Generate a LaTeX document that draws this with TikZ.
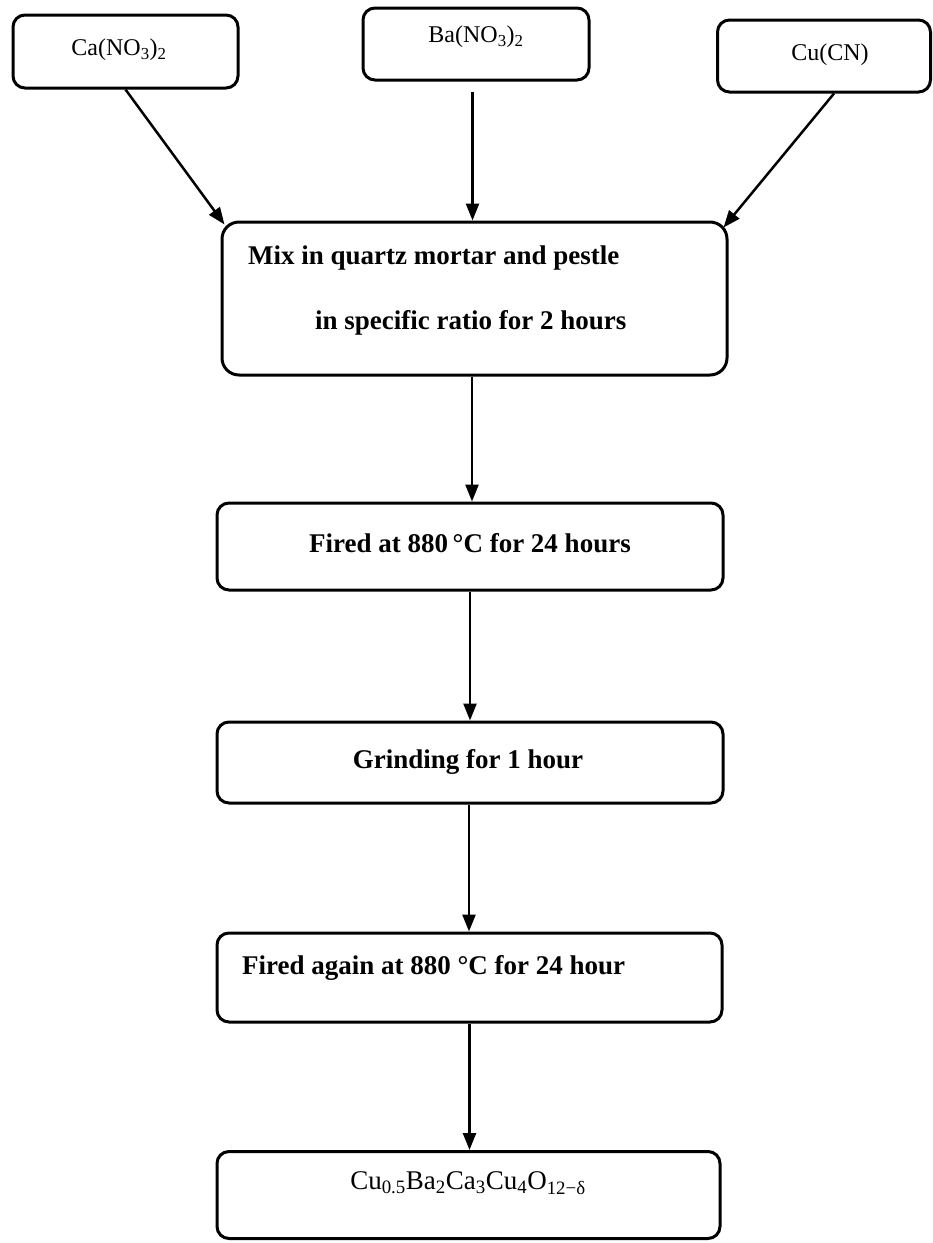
\documentclass[tikz,border=0pt]{standalone}
\usepackage{fontspec}
\setmainfont{Liberation Serif}
\usetikzlibrary{arrows.meta,calc}
\begin{document}
\begin{tikzpicture}[x=1pt,y=-1pt,
  box/.style={draw,line width=3pt,rounded corners=12pt,inner sep=0pt},
  toptext/.style={inner sep=0pt,font=\fontsize{24}{28}\selectfont},
  maintext/.style={inner sep=0pt,font=\fontsize{27}{32}\selectfont\bfseries},
  finaltext/.style={inner sep=0pt,font=\fontsize{27}{32}\selectfont},
  arr/.style={line width=2.5pt,-{Triangle[length=17pt,width=13pt]}}]
\useasboundingbox[fill=white] (0,0) rectangle (933,1243);
% boxes
\node[box,minimum width=225pt,minimum height=73pt] (ca) at (125.5,51.5) {};
\node[box,minimum width=226pt,minimum height=72pt] (ba) at (476,44) {};
\node[box,minimum width=213pt,minimum height=72pt] (cu) at (824,56) {};
\node[box,rounded corners=17pt,minimum width=505pt,minimum height=153pt] (mix) at (474.5,298.5) {};
\node[box,minimum width=506pt,minimum height=87pt] (fired) at (470,546.5) {};
\node[box,minimum width=506pt,minimum height=81pt] (grind) at (470,762.5) {};
\node[box,minimum width=505pt,minimum height=89pt] (again) at (469.5,977.5) {};
\node[box,minimum width=503pt,minimum height=87pt] (final) at (468.5,1195) {};
% texts
\node[toptext] (tca) at (119,50) {Ca(NO\textsubscript{3})\textsubscript{2}};
\node[toptext] (tba) at (476,37) {Ba(NO\textsubscript{3})\textsubscript{2}};
\node[toptext] (tcu) at (830,55) {Cu(CN)};
\node[maintext,anchor=west] (tmix1) at (248,258) {Mix in quartz mortar and pestle};
\node[maintext,anchor=west] (tmix2) at (315,323) {in specific ratio for 2 hours};
\node[maintext] (tfired) at (470,543) {Fired at 880\,°C for 24 hours};
\node[maintext] (tgrind) at (468,762) {Grinding for 1 hour};
\node[maintext,anchor=west] (tagain) at (242,968) {Fired again at 880 °C for 24 hour};
\node[finaltext] (tfinal) at (468,1183) {Cu\textsubscript{0.5}Ba\textsubscript{2}Ca\textsubscript{3}Cu\textsubscript{4}O\textsubscript{12−δ}};
% connectors
\draw[arr] (ca.south) -- ($(mix.north west)+(4,4)$);
\draw[arr,shorten <=10pt] ($(mix.north |- ba.south)+(-2,0)$) -- ($(mix.north)+(-2,0)$);
\draw[arr] ($(cu.south)+(10,0)$) -- ($(mix.north east)+(-5,7)$);
\draw[arr] ($(mix.south)+(-2.5,0)$) -- ($(mix.south |- fired.north)+(-2.5,0)$);
\draw[arr] (fired.south) -- (fired.south |- grind.north);
\draw[arr] ($(grind.south)+(-1,0)$) -- ($(grind.south |- again.north)+(-1,0)$);
\draw[arr] (again.south) -- (again.south |- final.north);
\end{tikzpicture}
\end{document}
